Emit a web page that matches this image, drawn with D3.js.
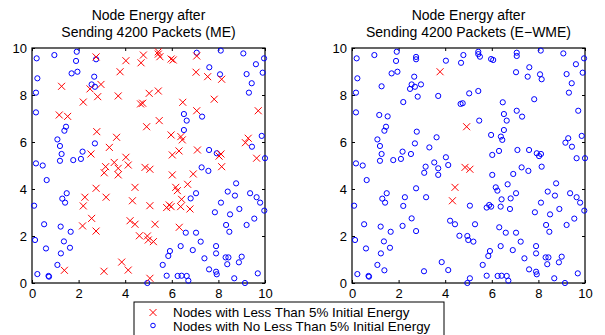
<!DOCTYPE html>
<html>
<head>
<meta charset="utf-8">
<script src="https://cdn.jsdelivr.net/npm/d3@7"></script>
<style>
  body { margin: 0; background: #fff; }
  svg { display: block; }
</style>
</head>
<body>
<div id="chart"></div>
<script>
// node positions (same network in both panels)
const nodeX = [0.20,0.96,1.92,1.89,2.75,2.75,4.03,4.68,4.78,0.23,1.70,1.95,3.78,2.67,2.56,2.96,2.70,2.49,1.27,2.82,
  3.70,0.17,2.20,4.66,4.75,0.17,1.17,1.53,1.46,1.39,2.78,4.92,1.09,1.20,1.27,2.70,3.63,3.32,2.17,2.10,
  2.53,1.77,1.20,0.17,0.46,3.53,4.03,3.16,3.10,3.70,3.70,4.13,4.85,5.06,0.63,4.42,4.31,2.75,1.49,1.30,
  1.42,0.09,2.27,2.20,3.18,2.56,0.52,4.21,4.42,1.23,2.17,2.75,1.66,4.61,0.13,1.37,0.60,1.63,1.24,1.09,
  1.39,0.23,0.71,0.73,3.85,4.13,3.09,7.28,7.57,8.14,6.02,6.92,8.76,6.17,6.24,6.68,7.04,8.40,8.71,9.36,
  9.64,9.79,9.97,5.06,5.78,5.89,5.97,6.42,6.38,6.81,6.78,8.11,7.85,8.50,8.90,9.54,5.28,6.32,8.33,9.21,
  8.47,6.60,7.04,4.95,4.99,5.21,7.24,7.90,6.38,5.92,5.85,6.90,7.90,7.40,8.31,8.43,9.00,8.88,5.61,8.38,
  7.60,7.90,7.93,5.78,6.25,6.42,6.64,6.71,8.68,9.69,9.14,5.06,4.95,5.42,5.42,5.49,5.97,6.06,7.07,7.07,
  8.10,9.07,9.61,9.96,7.61,7.04,7.54,8.07,8.14,9.21,9.90,9.43,9.31,5.42,5.03,6.47,7.82,7.07,6.52,6.64,
  7.30,9.71,5.46,6.52,5.97,6.39,6.45,9.86,9.28,9.16,9.44,7.10,7.60,6.31,6.02,7.93,8.11,8.03,9.64,10.0]
const nodeY = [9.56,9.70,9.84,9.45,9.62,9.52,9.46,9.37,9.70,8.71,8.92,8.99,8.99,8.78,8.45,8.45,8.35,8.26,8.37,7.93,
  7.96,8.10,7.70,7.62,7.65,7.26,7.15,7.09,6.65,6.48,6.44,6.65,6.11,5.83,5.49,5.94,6.20,5.77,5.59,5.28,
  5.49,5.23,5.20,5.09,5.00,5.13,5.35,4.95,4.69,4.88,4.60,5.02,4.92,4.84,4.38,4.07,3.50,4.03,3.82,3.59,
  3.42,3.29,3.65,3.28,3.65,2.75,2.50,2.65,2.50,2.40,2.43,2.21,2.18,2.01,1.83,1.77,1.47,1.50,1.26,0.77,
  0.54,0.38,0.30,0.27,0.89,0.55,0.50,4.92,4.77,4.95,4.60,4.64,4.24,4.07,3.93,4.20,3.82,3.89,3.72,3.82,
  3.65,3.42,3.08,3.29,3.21,3.32,3.25,3.56,3.25,3.60,3.15,3.42,3.01,2.92,3.15,2.74,2.50,2.37,2.47,2.47,
  2.18,2.14,2.14,2.00,1.83,1.76,1.76,1.57,1.57,1.36,1.15,1.40,1.26,1.05,1.09,1.09,1.12,0.88,0.77,0.80,
  0.58,0.48,0.37,0.31,0.30,0.31,0.30,0.10,0.20,0.41,0.00,0.20,0.00,9.84,9.74,9.63,9.53,9.49,9.80,9.66,
  9.89,9.77,9.31,9.56,9.18,8.97,8.78,8.88,8.67,8.89,8.95,8.50,8.10,8.17,8.07,7.69,7.82,7.33,7.19,6.91,
  7.08,7.33,6.91,6.51,6.30,6.23,6.09,6.26,6.16,5.97,5.80,5.66,5.66,5.62,5.45,5.52,5.49,5.40,5.31,5.31]
// 1 = less than 5% initial energy left
const lowME = [0,0,0,0,1,0,1,1,1,0,0,0,1,0,0,1,0,1,1,1,
  1,0,1,1,1,0,1,1,0,0,1,1,0,0,0,0,1,1,0,0,
  1,0,0,0,0,1,1,1,1,1,1,1,1,1,0,1,1,1,0,0,
  0,0,1,1,1,1,0,1,1,0,1,1,0,1,0,0,0,0,0,0,
  1,0,0,0,1,1,1,0,0,1,1,1,0,1,1,1,0,0,0,0,
  0,0,0,1,1,1,1,1,1,0,1,0,0,0,0,0,1,1,0,0,
  0,0,0,1,1,1,0,0,0,0,0,0,0,0,0,0,0,0,0,0,
  0,0,0,0,0,0,0,0,0,0,0,1,0,1,1,1,1,1,0,1,
  0,0,0,0,0,1,1,0,1,0,0,0,0,1,1,1,1,1,0,0,
  0,1,1,0,1,1,1,0,1,1,0,1,0,1,1,0,1,1,1,0]
const lowEWME = nodeX.map((d, i) => [12, 31, 52, 53, 55, 56].includes(i) ? 1 : 0)

const titles = [["Node Energy after", "Sending 4200 Packets (ME)"],
                ["Node Energy after", "Sending 4200 Packets (E\u2212WME)"]]
const ticks = [0, 2, 4, 6, 8, 10]
const legendLabels = ["Nodes with Less Than 5% Initial Energy",
                      "Nodes with No Less Than 5% Initial Energy"]

const W = 605, H = 335
const font = "Liberation Sans, Arial, Helvetica, sans-serif"
const svg = d3.select("#chart").append("svg").attr("width", W).attr("height", H)

const y = d3.scaleLinear().domain([0, 10]).range([283, 48])
const panels = [
  { left: 32, low: lowME, title: titles[0] },
  { left: 352, low: lowEWME, title: titles[1] }
]

const xPath = "M-3.5,-3.5L3.5,3.5M-3.5,3.5L3.5,-3.5"

panels.forEach(p => {
  const x = d3.scaleLinear().domain([0, 10]).range([p.left, p.left + 233])
  const g = svg.append("g")

  //axes, ticks pointing inward on all four sides
  const styleAxis = sel => {
    sel.attr("font-family", font).attr("font-size", 13)
    sel.select(".domain").remove()
    sel.selectAll("text").attr("fill", "#000")
  }
  g.append("g").attr("transform", `translate(0,${y(0)})`)
    .call(d3.axisBottom(x).tickValues(ticks).tickSizeInner(-3).tickSizeOuter(0).tickPadding(6))
    .call(styleAxis)
  g.append("g").attr("transform", `translate(${x(0)},0)`)
    .call(d3.axisLeft(y).tickValues(ticks).tickSizeInner(-3).tickSizeOuter(0).tickPadding(5))
    .call(styleAxis)
  g.append("g").attr("transform", `translate(0,${y(10)})`)
    .call(d3.axisTop(x).tickValues(ticks).tickSizeInner(-3).tickSizeOuter(0).tickFormat(""))
    .call(styleAxis)
  g.append("g").attr("transform", `translate(${x(10)},0)`)
    .call(d3.axisRight(y).tickValues(ticks).tickSizeInner(-3).tickSizeOuter(0).tickFormat(""))
    .call(styleAxis)

  g.append("rect")
    .attr("x", x(0)).attr("y", y(10))
    .attr("width", x(10) - x(0)).attr("height", y(0) - y(10))
    .attr("fill", "none").attr("stroke", "#000").attr("stroke-width", 1.2)

  const idx = nodeX.map((d, i) => i)

  //healthy nodes
  g.selectAll("circle.ok")
    .data(idx.filter(i => !p.low[i]))
    .join("circle")
      .attr("class", "ok")
      .attr("cx", i => x(nodeX[i]))
      .attr("cy", i => y(nodeY[i]))
      .attr("r", 2.6)
      .attr("fill", "none")
      .attr("stroke", "#0000ff")
      .attr("stroke-width", 1)

  //depleted nodes
  g.selectAll("path.low")
    .data(idx.filter(i => p.low[i]))
    .join("path")
      .attr("class", "low")
      .attr("d", xPath)
      .attr("transform", i => `translate(${x(nodeX[i])},${y(nodeY[i])})`)
      .attr("fill", "none")
      .attr("stroke", "#ff0000")
      .attr("stroke-width", 1)

  //title
  const cx = (x(0) + x(10)) / 2
  g.append("text").attr("x", cx).attr("y", 20).attr("text-anchor", "middle")
    .attr("font-family", font).attr("font-size", 14).text(p.title[0])
  g.append("text").attr("x", cx).attr("y", 37).attr("text-anchor", "middle")
    .attr("font-family", font).attr("font-size", 14).text(p.title[1])
})

//legend
const leg = svg.append("g")
leg.append("rect").attr("x", 134).attr("y", 302).attr("width", 310).attr("height", 40)
  .attr("fill", "#fff").attr("stroke", "#000").attr("stroke-width", 1)
leg.append("path").attr("d", xPath).attr("transform", "translate(153,312.5)")
  .attr("fill", "none").attr("stroke", "#ff0000")
leg.append("circle").attr("cx", 153).attr("cy", 325.5).attr("r", 2.3)
  .attr("fill", "none").attr("stroke", "#0000ff")
leg.selectAll("text")
  .data(legendLabels)
  .join("text")
    .attr("x", 173)
    .attr("y", (d, i) => 317 + i * 13.5)
    .attr("font-family", font).attr("font-size", 13.4)
    .text(d => d)
</script>
